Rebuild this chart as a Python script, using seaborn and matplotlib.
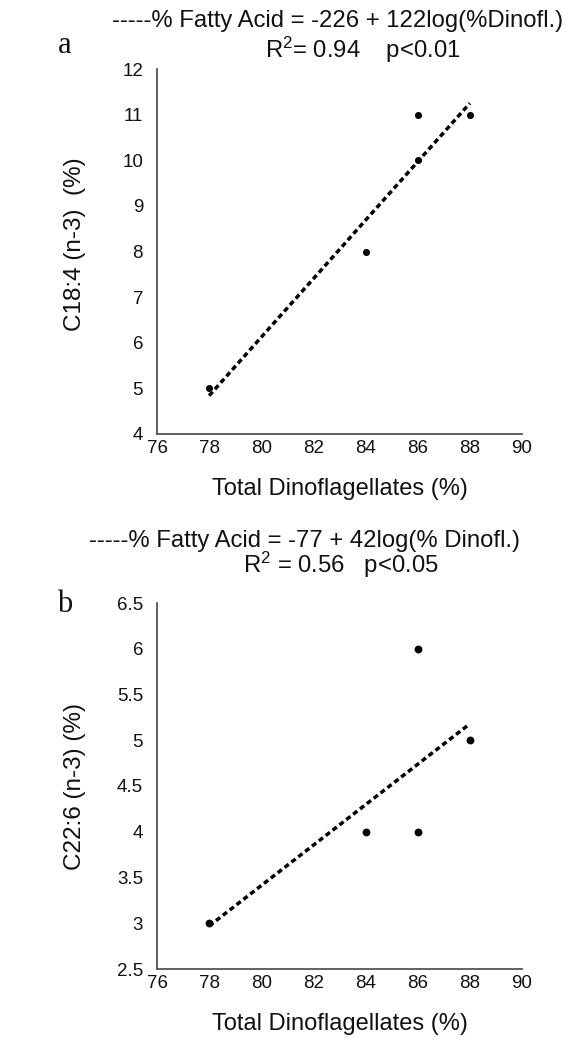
import matplotlib
matplotlib.use("Agg")
import matplotlib.pyplot as plt
import seaborn as sns
import pandas as pd

# Panel a data
dino_a = [78, 84, 86, 86, 88]
c184 = [5, 8, 11, 10, 11]
fit_a_x = [78, 88]
fit_a_y = [4.84, 11.25]

# Panel b data
dino_b = [78, 84, 86, 86, 88]
c226 = [3, 4, 6, 4, 5]
fit_b_x = [78, 88]
fit_b_y = [2.97, 5.18]

xticks = [76, 78, 80, 82, 84, 86, 88, 90]
yticks_a = [4, 5, 6, 7, 8, 9, 10, 11, 12]
yticks_b = [2.5, 3, 3.5, 4, 4.5, 5, 5.5, 6, 6.5]
ytick_labels_b = ["2.5", "3", "3.5", "4", "4.5", "5", "5.5", "6", "6.5"]

sns.set_theme(style="white")
plt.rcParams['font.family'] = ['Liberation Sans', 'DejaVu Sans']
plt.rcParams['mathtext.fontset'] = 'custom'
plt.rcParams['mathtext.rm'] = 'Liberation Sans'
plt.rcParams['mathtext.it'] = 'Liberation Sans'

W, H = 574, 1039
fig = plt.figure(figsize=(W / 100, H / 100), dpi=100)

def ax_rect(l, t, r, b):
    return [l / W, 1 - b / H, (r - l) / W, (b - t) / H]

ax_a = fig.add_axes(ax_rect(157, 69, 522, 434))
ax_b = fig.add_axes(ax_rect(157, 603, 522, 969))

TXT = "#111111"

def style(ax, yt, ylab, ylab_y, ytl=None):
    ax.set_xlim(76, 90)
    ax.set_xticks(xticks)
    ax.set_xticklabels([str(v) for v in xticks], fontsize=13.5)
    ax.set_yticks(yt)
    if ytl is None:
        ax.set_yticklabels([str(v) for v in yt], fontsize=13.5)
    else:
        ax.set_yticklabels(ytl, fontsize=13.5)
    ax.set_ylim(yt[0], yt[-1])
    for s in ["top", "right"]:
        ax.spines[s].set_visible(False)
    for s in ["left", "bottom"]:
        ax.spines[s].set_color("#555555")
        ax.spines[s].set_linewidth(1.3)
    ax.tick_params(axis="both", length=0, colors=TXT)
    ax.tick_params(axis="y", pad=10)
    ax.tick_params(axis="x", pad=4)
    ax.set_xlabel("Total Dinoflagellates (%)", fontsize=17, color=TXT)
    ax.xaxis.set_label_coords(0.5, -44 / 365)
    ax.set_ylabel(ylab, fontsize=17.5, color=TXT)
    ax.yaxis.set_label_coords(-71 / 365, ylab_y)
    ax.grid(False)

df_a = pd.DataFrame({"x": dino_a, "y": c184})
df_b = pd.DataFrame({"x": dino_b, "y": c226})
fa = pd.DataFrame({"x": fit_a_x, "y": fit_a_y})
fb = pd.DataFrame({"x": fit_b_x, "y": fit_b_y})

sns.lineplot(data=fa, x="x", y="y", ax=ax_a, color="black", lw=2.5,
             linestyle=(0, (1.5, 1.0)))
sns.scatterplot(data=df_a, x="x", y="y", ax=ax_a, color="black", s=26,
                edgecolor="black", linewidth=0, zorder=3)
sns.lineplot(data=fb, x="x", y="y", ax=ax_b, color="black", lw=2.5,
             linestyle=(0, (1.5, 1.0)))
sns.scatterplot(data=df_b, x="x", y="y", ax=ax_b, color="black", s=32,
                edgecolor="black", linewidth=0, zorder=3)

style(ax_a, yticks_a, "C18:4 (n-3)  (%)", 0.52)
style(ax_b, yticks_b, "C22:6 (n-3) (%)", 0.5, ytick_labels_b)

def ftxt(x, y, s, **kw):
    fig.text(x / W, 1 - y / H, s, **kw)

ftxt(112, 27, "-----% Fatty Acid = -226 + 122log(%Dinofl.)", fontsize=17.2,
     ha="left", va="baseline", color=TXT)
ftxt(265, 58, "R$^2$= 0.94    p<0.01", fontsize=17.2, ha="left",
     va="baseline", color=TXT)
ftxt(65, 53, "a", fontsize=22, family="Liberation Serif", ha="center",
     va="baseline", color=TXT)

ftxt(89, 547, "-----% Fatty Acid = -77 + 42log(% Dinofl.)", fontsize=17.2,
     ha="left", va="baseline", color=TXT)
ftxt(243, 573, "R$^2$ = 0.56   p<0.05", fontsize=17.2, ha="left",
     va="baseline", color=TXT)
ftxt(65, 612, "b", fontsize=22, family="Liberation Serif", ha="center",
     va="baseline", color=TXT)

fig.savefig("out.png", dpi=100)
